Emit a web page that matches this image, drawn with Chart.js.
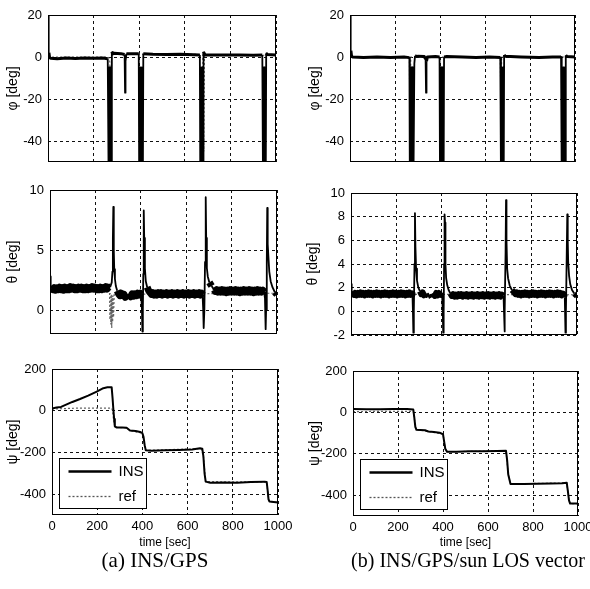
<!DOCTYPE html>
<html><head><meta charset="utf-8">
<script src="https://cdn.jsdelivr.net/npm/chart.js@4.4.1/dist/chart.umd.min.js"></script>
<style>
html,body{margin:0;padding:0;background:#fff;}
#wrap{position:relative;width:590px;height:589px;overflow:hidden;background:#fff;}
canvas{position:absolute;left:0;top:0;}
.cap{position:absolute;font-family:"Liberation Serif","DejaVu Serif",serif;line-height:22px;color:#000;white-space:nowrap;transform:translateX(-50%);}
</style></head><body>
<div id="wrap">
<canvas id="c0" width="590" height="589"></canvas>
<canvas id="c1" width="590" height="589"></canvas>
<canvas id="c2" width="590" height="589"></canvas>
<canvas id="c3" width="590" height="589"></canvas>
<canvas id="c4" width="590" height="589"></canvas>
<canvas id="c5" width="590" height="589"></canvas>
<div class="cap" style="left:155px;top:549px;font-size:21px">(a) INS/GPS</div>
<div class="cap" style="left:468px;top:549px;font-size:20px">(b) INS/GPS/sun LOS vector</div>
</div>
<script>
// ---------- tick labels ----------
const timeTicks = [0,200,400,600,800,1000];
const phiTicks = [-40,-20,0,20];
const thetaTicksA = [0,5,10];
const thetaTicksB = [-2,0,2,4,6,8,10];
const psiTicks = [-400,-200,0,200];
const seriesLabels = ['INS','ref'];

// ---------- series: [time (sec), value (deg)] ----------
const phiA_INS = [[0,20],[2,9],[4,2],[7,-0.3],[12,-0.6],[40,-0.8],[80,-0.5],[120,-0.7],[160,-0.5],[200,-0.6],[240,-0.5],[262,-0.8],
 [264,-30],[266,-60],[268,-5],[270,-60],[272,-5],[274,-60],[276,-5],[278,-60],
 [280,2.5],[282,2],[284,1.5],[290,1.8],[320,1.6],[336,1.2],[338,-17],[340,-2],[344,1.5],[370,1.6],[398,1.5],
 [400,-60],[402,-5],[404,-60],[406,-5],[408,-60],[410,-5],[412,-60],[414,-5],[416,-60],
 [418,1.5],[460,1.3],[520,1.2],[580,1.3],[640,1.1],[666,1.0],
 [668,-60],[670,-5],[672,-60],[674,-5],[676,-60],[678,-5],[680,-60],[682,2.5],
 [686,1.5],[690,1.0],[720,1.0],[780,0.9],[840,1.0],[900,0.8],[940,0.9],
 [943,-60],[945,-5],[947,-60],[949,-5],[951,-60],[953,-5],[955,-60],[957,1.5],
 [960,1.2],[1000,1.0]];
const phiA_ref = [[0,0],[262,0],[270,-1],[276,-12],[279,0],[281,1.5],[660,1.2],[679,1],[683,-45],[686,1],[1000,0.8]];

const phiB_INS = [[0,20],[2,10],[4,3],[7,0.3],[12,0],[60,-0.2],[120,0],[180,-0.2],[240,0],[264,-0.3],
 [266,-60],[268,-5],[270,-60],[272,-5],[274,-60],[276,-5],[278,-60],[280,-5],[282,-60],[286,-3],[289,0.5],
 [300,0.3],[330,0.2],[336,-1],[338,-17],[340,-2],[344,0],[380,0.2],[398,0],
 [400,-60],[402,-5],[404,-60],[406,-5],[408,-60],[410,-5],[412,-60],[414,-5],[416,-60],[418,0],
 [430,0.2],[500,0],[560,-0.2],[620,0],[668,-0.2],
 [671,-60],[674,-5],[677,-60],[680,-5],[683,-60],[685,1],[690,0.3],[760,0],[840,-0.2],[900,0],[938,0],
 [941,-60],[943,-5],[945,-60],[947,-5],[949,-60],[951,-5],[953,-60],[955,-5],[957,-60],[959,0.8],[965,0.2],[1000,0]];
const phiB_ref = [[0,0],[264,0],[267,-47],[270,0],[668,0],[671,-25],[674,0],[1000,0]];

const thetaA_INS = [[0,2.8],[3,2.1],[6,1.8],[12,1.7],[18,1.85],[24,1.65],[30,1.85],[36,1.7],[42,1.9],[48,1.7],[54,1.85],
 [60,1.65],[66,1.9],[72,1.7],[78,1.85],[84,1.7],[90,1.95],[96,1.75],[102,1.9],[108,1.7],[114,1.85],[120,1.7],[126,1.9],
 [132,1.75],[138,1.9],[144,1.7],[150,1.85],[156,1.7],[162,1.9],[168,1.7],[174,1.85],[180,1.75],[186,1.95],[192,1.75],
 [198,1.9],[204,1.7],[210,1.85],[216,1.7],[222,1.9],[228,1.7],[234,1.85],[240,1.75],[246,1.95],[252,1.75],[258,1.9],
 [265,1.9],[272,2.3],[275,3.2],[277,6],[279,8.6],[281,5],[283,3.4],[286,2.6],[290,2.0],[296,1.6],
 [302,1.35],[308,1.2],[314,1.4],[320,1.2],[326,1.3],[332,1.05],[338,1.3],[344,1.0],[350,1.3],[356,1.1],[362,1.35],
 [368,1.15],[374,1.35],[380,1.2],[386,1.4],[392,1.25],[398,1.4],[402,1.3],
 [405,0],[407,-1.8],[409,0],[411,3],[413,8.3],[415,6],[418,3.5],[422,2.4],[428,1.9],[435,1.6],[441,1.45],
 [447,1.3],[453,1.45],[459,1.25],[465,1.4],[471,1.25],[477,1.45],[483,1.3],[489,1.45],[495,1.25],[501,1.4],[507,1.3],
 [513,1.45],[519,1.25],[525,1.4],[531,1.3],[537,1.45],[543,1.25],[549,1.4],[555,1.3],[561,1.45],[567,1.25],[573,1.4],
 [579,1.3],[585,1.45],[591,1.25],[597,1.4],[603,1.3],[609,1.45],[615,1.25],[621,1.4],[627,1.3],[633,1.45],[639,1.25],
 [645,1.4],[651,1.3],[657,1.45],[663,1.25],[669,1.4],[672,1.3],
 [675,0],[677,-1.5],[680,0],[683,4],[686,9.4],[688,6],[691,3.5],[695,2.8],[702,2.3],[712,2.0],[722,1.7],[728,1.55],
 [734,1.7],[740,1.5],[746,1.65],[752,1.5],[758,1.7],[764,1.5],[770,1.65],[776,1.45],[782,1.65],[788,1.5],[794,1.7],
 [800,1.5],[806,1.65],[812,1.5],[818,1.7],[824,1.5],[830,1.65],[836,1.45],[842,1.65],[848,1.5],[854,1.7],[860,1.5],
 [866,1.65],[872,1.5],[878,1.7],[884,1.5],[890,1.65],[896,1.45],[902,1.65],[908,1.5],[914,1.7],[920,1.5],[926,1.65],
 [932,1.5],[938,1.65],[943,1.5],[947,1.0],[950,-1.6],[952,0],
 [955,4],[957,8.5],[959,5.5],[962,4.5],[966,3.2],[972,2.4],[980,1.9],[990,1.5],[1000,1.3]];
const thetaA_ref = [[0,1.8],[262,1.8],[264,-0.8],[266,1.4],[268,-1.2],[270,1.3],[272,-1.5],[274,1.2],[276,-1.0],[278,1.2],
 [280,-0.6],[283,1.4],[300,1.3],[1000,1.4]];

const thetaB_INS = [[0,2.3],[3,1.7],[6,1.5],[12,1.4],[18,1.55],[24,1.35],[30,1.55],[36,1.4],[42,1.6],[48,1.4],[54,1.55],
 [60,1.35],[66,1.55],[72,1.4],[78,1.6],[84,1.4],[90,1.55],[96,1.35],[102,1.55],[108,1.4],[114,1.6],[120,1.4],[126,1.55],
 [132,1.35],[138,1.55],[144,1.4],[150,1.6],[156,1.4],[162,1.55],[168,1.35],[174,1.55],[180,1.4],[186,1.6],[192,1.4],
 [198,1.55],[204,1.35],[210,1.55],[216,1.4],[222,1.6],[228,1.4],[234,1.55],[240,1.35],[246,1.55],[252,1.4],[258,1.6],
 [264,1.4],[270,1.5],[272,1.4],[274,0],[276,-1.8],[278,0],[281,4],
 [283,8.3],[285,5.5],[288,3.6],[292,2.6],[298,2.0],[305,1.7],[311,1.45],[317,1.6],[323,1.35],[329,1.55],[335,1.2],
 [341,1.5],[347,1.15],[353,1.45],[359,1.2],[365,1.5],[371,1.3],[377,1.55],[383,1.35],[389,1.55],[395,1.4],[403,1.5],
 [406,0],[408,-1.8],[410,0],[412,4],[414,8.2],[416,7.5],[418,4],[421,2.8],[426,2.2],[432,1.8],[440,1.5],[446,1.3],
 [452,1.45],[458,1.25],[464,1.4],[470,1.25],[476,1.45],[482,1.3],[488,1.45],[494,1.25],[500,1.4],[506,1.3],[512,1.45],
 [518,1.25],[524,1.4],[530,1.3],[536,1.45],[542,1.25],[548,1.4],[554,1.3],[560,1.45],[566,1.25],[572,1.4],[578,1.3],
 [584,1.45],[590,1.25],[596,1.4],[602,1.3],[608,1.45],[614,1.25],[620,1.4],[626,1.3],[632,1.45],[638,1.25],[644,1.4],
 [650,1.3],[656,1.45],[662,1.25],[668,1.4],[675,1.3],
 [677,0],[679,-1.7],[681,0],[684,5],[686,9.4],[688,6],[691,3.6],[695,2.8],[702,2.2],[712,1.8],[722,1.6],[728,1.45],
 [734,1.6],[740,1.4],[746,1.55],[752,1.35],[758,1.55],[764,1.4],[770,1.6],[776,1.4],[782,1.55],[788,1.35],[794,1.55],
 [800,1.4],[806,1.6],[812,1.4],[818,1.55],[824,1.35],[830,1.55],[836,1.4],[842,1.6],[848,1.4],[854,1.55],[860,1.35],
 [866,1.55],[872,1.4],[878,1.6],[884,1.4],[890,1.55],[896,1.35],[902,1.55],[908,1.4],[914,1.6],[920,1.4],[926,1.55],
 [932,1.35],[938,1.5],[942,1.45],
 [946,1.2],[949,-1.8],[951,0],[954,4],[957,8.2],[959,6],[961,4.2],[965,3.0],[970,2.3],[978,1.8],[988,1.5],[1000,1.3]];
const thetaB_ref = [[0,1.45],[1000,1.4]];

const psiA_INS = [[0,10],[20,15],[40,18],[65,30],[90,42],[124,56],[160,72],[198,92],[227,108],[245,112],[264,112],
 [268,60],[271,14],[275,-40],[278,-75],[285,-80],[310,-80],[330,-82],[345,-95],[370,-97],[390,-102],[400,-108],
 [405,-125],[410,-165],[415,-190],[440,-192],[500,-190],[560,-188],[620,-186],[655,-180],[665,-182],[670,-220],
 [675,-300],[680,-340],[700,-345],[760,-344],[820,-345],[880,-342],[940,-340],[950,-342],[954,-380],[958,-425],
 [962,-435],[1000,-440]];
const psiA_ref = [[0,8],[100,12],[200,12],[264,12],[268,0],[272,-40],[278,-76],[285,-80],[330,-82],[345,-95],
 [400,-108],[410,-165],[415,-190],[660,-182],[670,-220],[680,-340],[950,-342],[958,-425],[962,-435],[1000,-440]];

const psiB_INS = [[0,16],[60,15],[120,15],[180,16],[240,16],[268,14],[272,-20],[277,-70],[282,-84],[300,-85],[320,-86],
 [335,-92],[360,-95],[385,-98],[400,-105],[405,-140],[410,-175],[418,-190],[460,-190],[520,-188],[580,-188],[640,-186],
 [680,-185],[685,-230],[690,-300],[700,-345],[760,-345],[820,-344],[880,-343],[930,-342],[950,-340],[955,-380],
 [960,-425],[965,-440],[1000,-440]];
const psiB_ref = [[0,4],[120,5],[268,5],[272,-20],[277,-70],[282,-84],[335,-92],[400,-105],[410,-175],[418,-190],
 [680,-185],[690,-300],[700,-345],[950,-340],[960,-425],[965,-440],[1000,-440]];

// ---------- helpers ----------
Chart.defaults.font.family = "'Liberation Sans', Arial, sans-serif";
Chart.defaults.color = '#000';

const framePlugin = {
  id: 'frame',
  afterDatasetsDraw(chart) {
    const a = chart.chartArea, ctx = chart.ctx;
    ctx.save();
    ctx.strokeStyle = '#000';
    ctx.lineWidth = 1;
    ctx.setLineDash([]);
    ctx.strokeRect(Math.round(a.left) + 0.5, Math.round(a.top) + 0.5,
                   Math.round(a.right) - Math.round(a.left) - 1, Math.round(a.bottom) - Math.round(a.top) - 1);
    ctx.restore();
  }
};

const boxLegendPlugin = {
  id: 'boxLegend',
  afterDraw(chart, args, opts) {
    if (!opts || !opts.show) return;
    const a = chart.chartArea, ctx = chart.ctx;
    const x = Math.round(a.left) + 7.5, y = Math.round(a.bottom) - 56.5, w = 87, h = 50;
    ctx.save();
    ctx.fillStyle = '#fff';
    ctx.fillRect(x, y, w, h);
    ctx.strokeStyle = '#000';
    ctx.lineWidth = 1;
    ctx.strokeRect(x, y, w, h);
    const ds = chart.data.datasets;
    ctx.font = "15px 'Liberation Sans', Arial, sans-serif";
    ctx.textBaseline = 'middle';
    ctx.fillStyle = '#000';
    ctx.beginPath(); ctx.strokeStyle = '#000'; ctx.lineWidth = 2.5; ctx.setLineDash([]);
    ctx.moveTo(x + 9, y + 13); ctx.lineTo(x + 52, y + 13); ctx.stroke();
    ctx.fillText(ds[0].label, x + 59, y + 13);
    ctx.beginPath(); ctx.strokeStyle = '#555'; ctx.lineWidth = 1.3; ctx.setLineDash([2, 2]);
    ctx.moveTo(x + 9, y + 38); ctx.lineTo(x + 52, y + 38); ctx.stroke();
    ctx.setLineDash([]);
    ctx.fillText(ds[1].label, x + 59, y + 38);
    ctx.restore();
  }
};

function pts(arr) { return arr.map(p => ({x: p[0], y: p[1]})); }

function build(id, o) {
  const [l, t, r, b] = o.area;
  const ylh = 14 * 1.2;
  const sLeft = o.titleX - ylh / 2;
  const W = l - sLeft;
  let xH = 0;
  if (o.xTitle) { const xlh = 12 * 1.2; xH = (543 + xlh / 2) - b; }
  const pad = {left: sLeft, top: t, right: 590 - r, bottom: 589 - b - xH};
  const zeroPad = s => { s.paddingLeft = 0; s.paddingRight = 0; s.paddingTop = 0; s.paddingBottom = 0; };
  new Chart(document.getElementById(id), {
    type: 'line',
    data: {
      datasets: [
        {label: seriesLabels[0], data: pts(o.ins), borderColor: '#000', borderWidth: o.insWidth,
         pointRadius: 0, tension: 0, clip: 0, borderJoinStyle: 'round',
         segment: {borderWidth: ctx => Math.abs(ctx.p1.parsed.y - ctx.p0.parsed.y) < o.flatDy ? o.flatWidth : o.insWidth}},
        {label: seriesLabels[1], data: pts(o.ref), borderColor: '#666', borderWidth: 1.2, borderDash: [2, 2],
         pointRadius: 0, tension: 0, clip: 0}
      ]
    },
    options: {
      responsive: false, animation: false, devicePixelRatio: 1,
      events: [],
      layout: {padding: pad},
      plugins: {legend: {display: false}, tooltip: {enabled: false}, boxLegend: {show: !!o.legend}},
      scales: {
        x: {
          type: 'linear', min: 0, max: 1000,
          afterBuildTicks: s => { s.ticks = timeTicks.map(v => ({value: v})); },
          afterFit: s => { s.height = xH; zeroPad(s); },
          ticks: {autoSkip: false, maxRotation: 0, padding: 4, font: {size: 13}, callback: v => String(v)},
          grid: {color: '#111', lineWidth: 1, drawTicks: false},
          border: {display: false, dash: [3, 3]},
          title: {display: !!o.xTitle, text: 'time [sec]', font: {size: 12}, padding: 0}
        },
        y: {
          type: 'linear', min: o.yMin, max: o.yMax,
          afterBuildTicks: s => { s.ticks = o.yTicks.map(v => ({value: v})); },
          afterFit: s => { s.width = W; zeroPad(s); },
          ticks: {autoSkip: false, padding: 6, font: {size: 13}, callback: v => String(v)},
          grid: {color: '#111', lineWidth: 1, drawTicks: false},
          border: {display: false, dash: [3, 3]},
          title: {display: true, text: o.yTitle, font: {size: 14}, padding: 0}
        }
      }
    },
    plugins: [framePlugin, boxLegendPlugin]
  });
}

build('c0', {area: [48, 15, 276, 162], titleX: 13, yMin: -50, yMax: 20, yTicks: phiTicks, yTitle: 'φ [deg]',
  ins: phiA_INS, ref: phiA_ref, insWidth: 1.8, flatWidth: 3, flatDy: 3});
build('c1', {area: [350, 15, 575, 162], titleX: 315, yMin: -50, yMax: 20, yTicks: phiTicks, yTitle: 'φ [deg]',
  ins: phiB_INS, ref: phiB_ref, insWidth: 1.8, flatWidth: 3, flatDy: 3});
build('c2', {area: [50, 190, 277, 334], titleX: 13, yMin: -2, yMax: 10, yTicks: thetaTicksA, yTitle: 'θ [deg]',
  ins: thetaA_INS, ref: thetaA_ref, insWidth: 1.8, flatWidth: 7, flatDy: 0.3});
build('c3', {area: [351, 193, 577, 335], titleX: 313, yMin: -2, yMax: 10, yTicks: thetaTicksB, yTitle: 'θ [deg]',
  ins: thetaB_INS, ref: thetaB_ref, insWidth: 1.8, flatWidth: 6, flatDy: 0.3});
build('c4', {area: [52, 369, 278, 515], titleX: 13, yMin: -500, yMax: 200, yTicks: psiTicks, yTitle: 'ψ [deg]',
  ins: psiA_INS, ref: psiA_ref, insWidth: 2, flatWidth: 2, flatDy: 1, xTitle: true, legend: true});
build('c5', {area: [353, 371, 578, 516], titleX: 315, yMin: -500, yMax: 200, yTicks: psiTicks, yTitle: 'ψ [deg]',
  ins: psiB_INS, ref: psiB_ref, insWidth: 2, flatWidth: 2, flatDy: 1, xTitle: true, legend: true});
</script>
</body></html>
